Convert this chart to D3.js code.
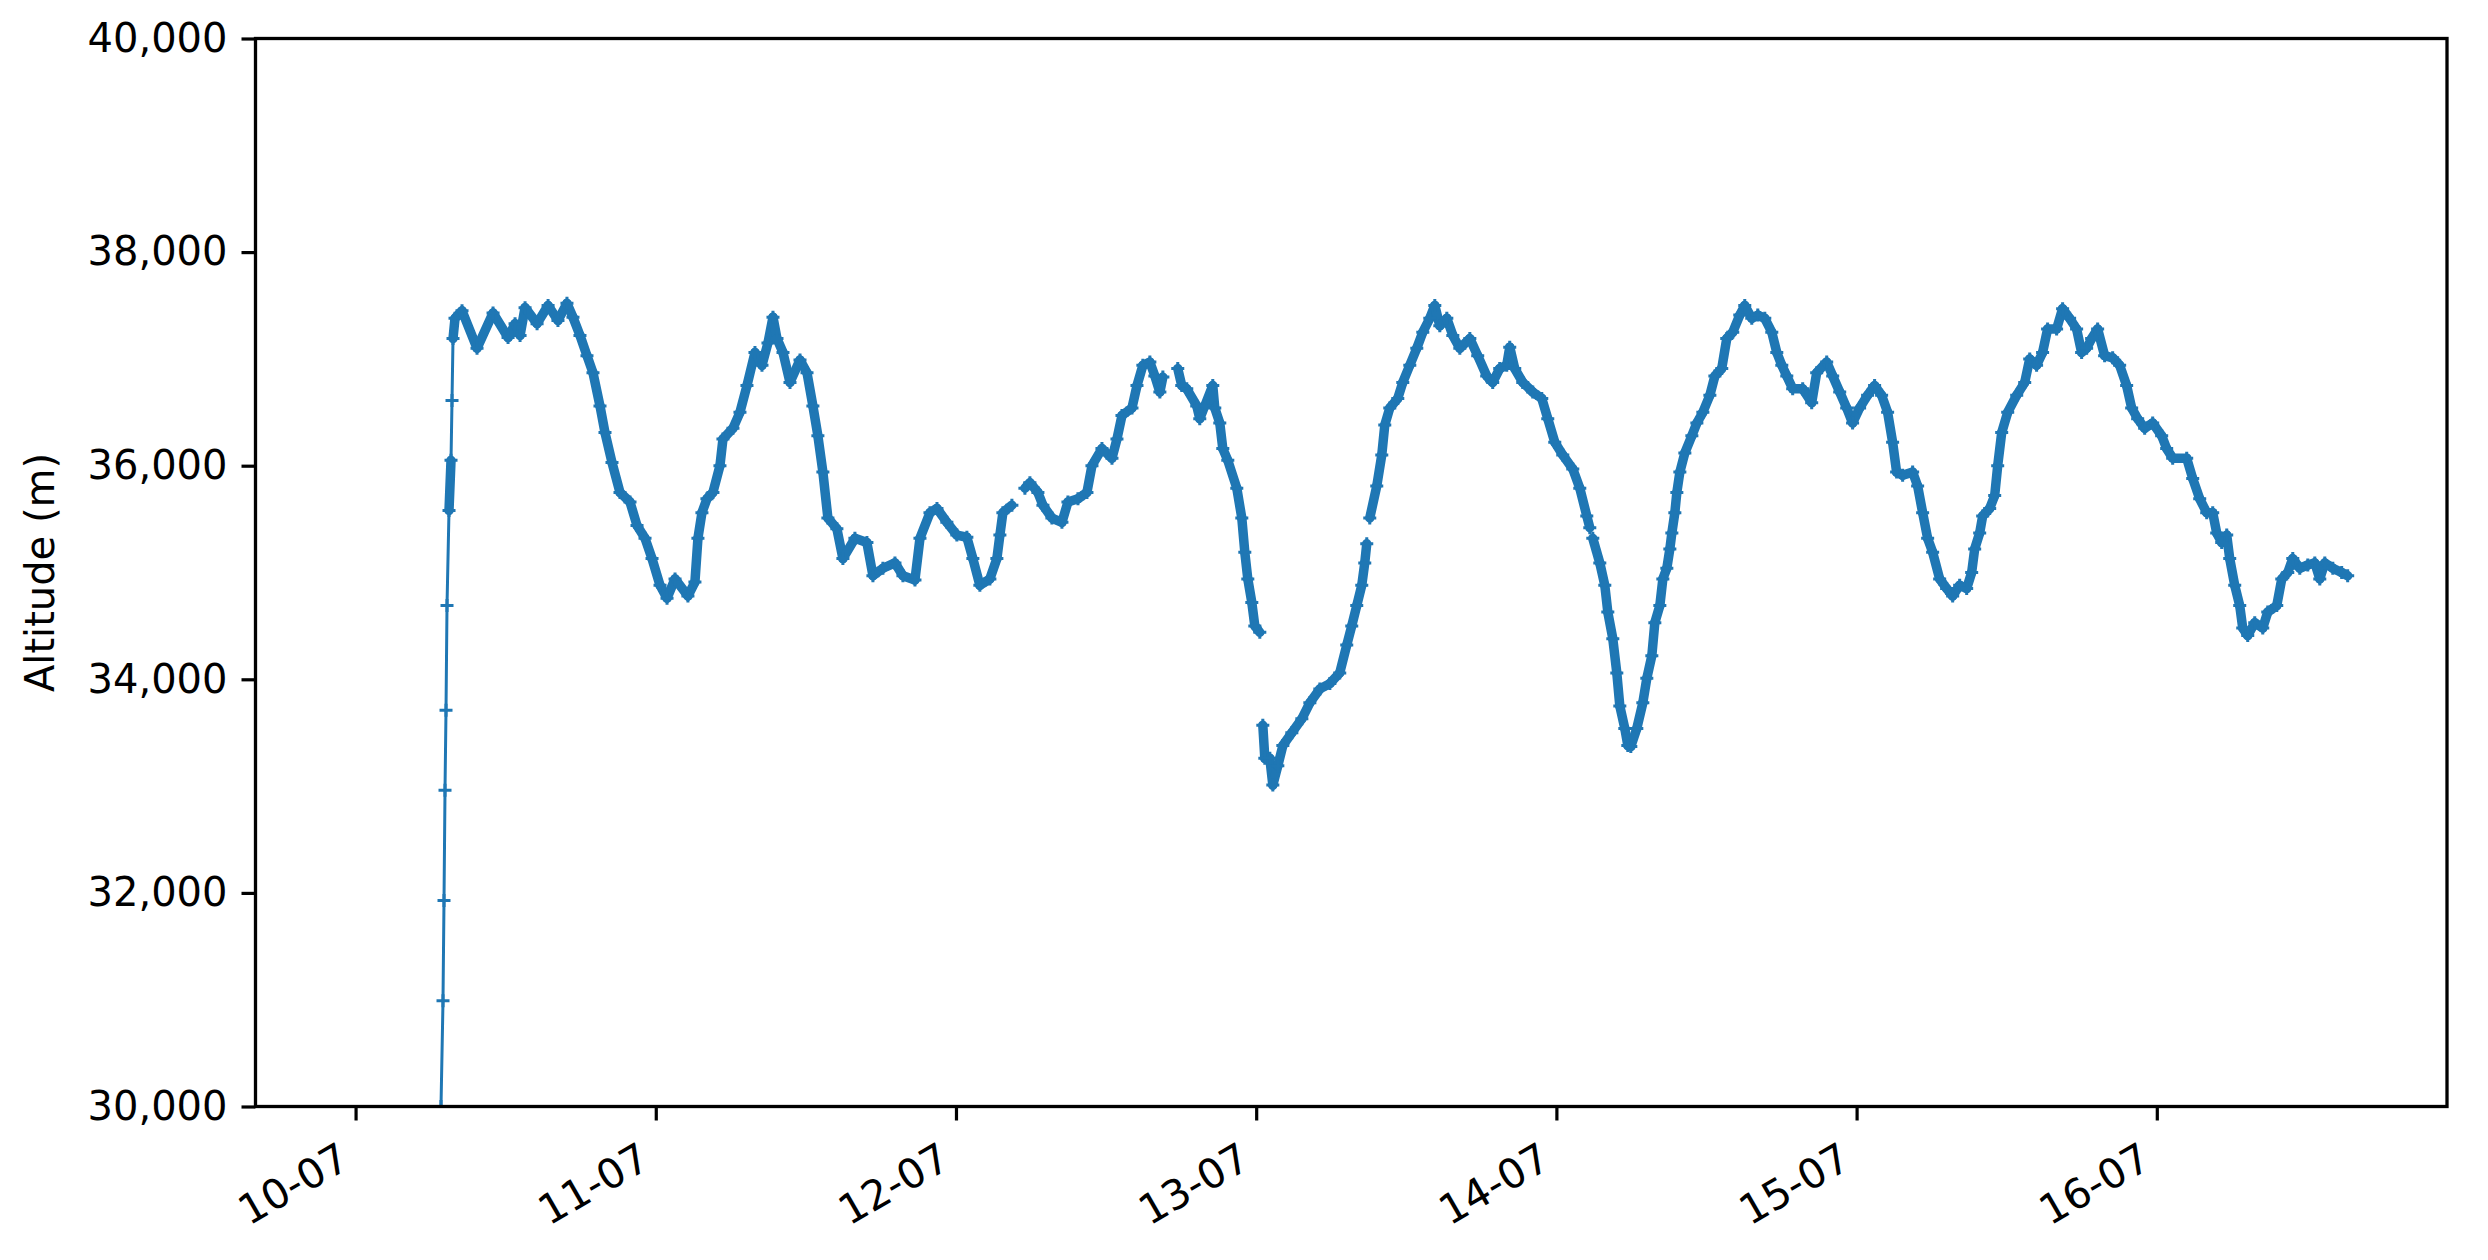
<!DOCTYPE html>
<html><head><meta charset="utf-8">
<script src="https://cdn.jsdelivr.net/npm/d3@7/dist/d3.min.js"></script>
<style>
body{margin:0;background:#fff}
text{font-family:"DejaVu Sans",sans-serif}
</style></head>
<body><svg id="chart" width="2488" height="1260"></svg>
<script>
// ---- data (hours after 10-07 00:00, altitude in metres; null = gap) ----
const baseDateUTC = Date.UTC(2024, 6, 10, 0, 0, 0);
const hours = [
 6.83,6.99,7.07,7.15,7.23,7.31,7.47,7.63,7.71,7.79,
 7.95,8.51,9.71,10.99,12.19,12.75,13.15,13.55,14.51,15.39,
 16.18,16.90,17.38,17.94,18.50,18.98,19.54,19.94,20.50,21.14,
 21.94,22.50,23.14,23.70,24.34,24.90,25.54,26.57,27.13,27.37,
 27.69,28.09,28.57,29.13,29.37,30.17,30.73,31.29,31.93,32.49,
 32.97,33.37,33.69,34.17,34.73,35.53,36.09,36.56,36.96,37.36,
 37.76,38.48,38.96,39.92,40.88,41.36,42.16,43.12,43.76,44.72,
 45.12,45.92,46.48,47.27,48.07,48.87,49.35,49.91,50.71,51.27,
 51.51,51.75,52.47,53.00,53.51,53.91,54.55,54.95,55.67,56.47,
 56.95,57.75,58.47,58.87,59.67,60.47,60.87,61.27,62.07,62.47,
 62.94,63.50,63.90,64.30,64.54,65.10,65.73,66.05,66.45,67.25,
 67.49,67.89,68.53,68.69,69.09,69.33,69.73,70.45,70.85,71.09,
 71.33,71.65,71.89,72.29,72.40,72.53,72.69,73.09,73.33,73.73,
 74.13,74.85,75.65,76.29,77.09,77.89,78.68,79.24,79.64,80.04,
 80.44,80.68,80.84,80.96,81.08,81.64,82.04,82.28,82.68,83.32,
 83.72,84.28,84.84,85.32,85.88,86.28,86.68,87.24,87.72,88.28,
 89.08,89.71,90.43,90.91,91.47,92.03,92.27,92.67,93.31,94.11,
 94.83,95.31,95.87,96.51,97.31,97.87,98.43,98.67,98.79,98.91,
 99.47,99.87,100.11,100.51,100.83,101.07,101.47,101.71,101.95,102.43,
 102.91,103.23,103.63,103.87,104.27,104.51,104.83,105.07,105.23,105.47,
 105.63,105.87,106.27,106.83,107.23,107.71,108.27,108.67,109.22,109.62,
 110.10,110.66,111.06,111.62,112.10,112.66,113.22,113.62,114.02,114.42,
 114.89,115.69,116.41,116.81,117.61,118.09,118.65,119.21,119.68,120.24,
 120.88,121.44,122.00,122.48,122.88,123.20,123.68,124.48,124.88,125.28,
 125.68,126.08,126.64,127.20,127.68,128.24,128.80,129.20,129.44,129.84,
 130.08,130.64,131.04,131.28,131.60,132.08,132.80,133.44,133.84,134.39,
 134.87,135.27,135.99,136.47,137.03,137.59,137.99,138.39,138.79,139.27,
 139.83,140.47,141.03,141.59,141.99,142.47,143.03,143.67,144.39,144.79,
 145.27,146.39,146.87,147.43,147.99,148.47,148.79,149.19,149.59,149.83,
 150.23,150.63,150.87,151.27,151.83,152.47,152.87,153.59,153.99,154.47,
 154.87,155.43,156.07,156.63,157.03,157.43,158.07,158.78,159.26
];
const altitude = [
 30000,30990,31930,32960,33710,34690,35580,36050,36610,37190,
 37380,37450,37100,37430,37200,37330,37220,37480,37330,37500,
 37360,37520,37390,37220,37030,36870,36560,36310,36030,35750,
 35660,35440,35320,35130,34880,34760,34940,34780,34910,35320,
 35560,35690,35750,36000,36250,36350,36500,36750,37060,36940,
 37150,37390,37190,37060,36780,36990,36870,36560,36280,35940,
 35510,35410,35130,35320,35280,34970,35040,35090,34970,34930,
 35320,35560,35600,35470,35350,35330,35130,34880,34940,35130,
 35350,35560,35630,null,35790,35840,35750,35630,35510,35470,
 35660,35690,35750,36000,36160,36070,36250,36470,36540,36750,
 36940,36970,36840,36690,36830,null,36910,36750,36720,36560,
 36440,36560,36750,36540,36400,36160,36050,35790,35510,35190,
 34940,34720,34500,34440,null,33570,33260,33260,33010,33190,
 33380,33500,33630,33780,33910,33960,34060,34320,34500,34690,
 34880,35090,35270,null,35510,35810,36100,36380,36540,36630,
 36780,36940,37100,37250,37380,37500,37310,37380,37220,37100,
 37190,37030,36840,36780,36910,36940,37110,36910,36780,36690,
 36630,36440,36220,36100,35970,35790,35530,35420,null,35320,
 35090,34880,34630,34380,34060,33750,33540,33380,33370,33540,
 33780,34010,34220,34530,34690,34940,35040,35220,35370,35560,
 35750,35940,36120,36280,36400,36500,36660,36840,36910,37190,
 37250,37410,37500,37380,37410,37380,37250,37060,36940,36840,
 36720,36720,36590,36870,36970,36840,36690,36540,36400,36540,
 36660,36750,36660,36500,36220,35940,35910,35940,35810,35560,
 35320,35190,34940,34850,34780,34880,34850,35000,35220,35370,
 35530,35600,35720,36000,36310,36500,36660,36780,37000,36940,
 37060,37280,37280,37470,37380,37280,37060,37100,37190,37280,
 37030,37010,36940,36750,36540,36440,36350,36400,36280,36160,
 36070,36070,35880,35690,35560,35560,35370,35280,35350,35130,
 34880,34690,34480,34410,34530,34480,34630,34690,34940,35000,
 35130,35040,35070,35090,34940,35090,35040,35000,34970
];
const yTicks = [30000, 32000, 34000, 36000, 38000, 40000];
const xTickDays = [10, 11, 12, 13, 14, 15, 16];
const xDomainHours = [-8, 167.2];
const yDomain = [30000, 40000];
const yLabel = "Altitude (m)";

// ---- layout ----
const L = 255.5, R = 2447, T = 38.5, B = 1106.5;
const color = "#1f77b4";
const svg = d3.select("#chart");
const toDate = h => new Date(baseDateUTC + h * 3600e3);

const x = d3.scaleUtc().domain(xDomainHours.map(toDate)).range([L, R]);
const y = d3.scaleLinear().domain(yDomain).range([B, T]);

const data = hours.map((h, i) => ({h, t: toDate(h), v: altitude[i]}));

svg.append("defs").append("clipPath").attr("id", "clip")
  .append("rect").attr("x", L).attr("y", T).attr("width", R - L).attr("height", B - T);

const g = svg.append("g").attr("clip-path", "url(#clip)");
// consecutive segments; fast ascent drawn thin (sparse points), float phase thick (dense noisy points)
const segs = [];
for (let i = 1; i < data.length; i++) {
  const a = data[i - 1], b = data[i];
  if (a.v === null || b.v === null) continue;
  const rate = Math.abs(b.v - a.v) / (b.h - a.h);
  segs.push({a, b, thin: rate > 3000});
}
g.append("g").selectAll("line").data(segs).join("line")
  .attr("x1", d => x(d.a.t)).attr("y1", d => y(d.a.v))
  .attr("x2", d => x(d.b.t)).attr("y2", d => y(d.b.v))
  .attr("stroke", color).attr("stroke-linecap", "round")
  .attr("stroke-width", d => d.thin ? 3 : 9.5);
const pts = data.filter(d => d.v !== null);
const s = 6.5;
g.append("g").selectAll("path").data(pts).join("path")
  .attr("d", d => { const px = x(d.t), py = y(d.v);
    return `M${px - s},${py}H${px + s}M${px},${py - s}V${py + s}`; })
  .attr("stroke", color).attr("stroke-width", 3);

// axes
const tickW = 3.2;
const yAxis = d3.axisLeft(y).tickValues(yTicks).tickFormat(d3.format(","))
  .tickSize(14).tickPadding(14);
const ya = svg.append("g").attr("transform", `translate(${L},0)`).call(yAxis);
ya.select(".domain").remove();
ya.selectAll("line").attr("stroke", "#000").attr("stroke-width", tickW);
ya.selectAll("text").attr("font-size", 40).attr("fill", "#000")
  .attr("font-family", "DejaVu Sans, sans-serif");

const xTicks = xTickDays.map(d => new Date(Date.UTC(2024, 6, d)));
const xAxis = d3.axisBottom(x).tickValues(xTicks).tickFormat(d3.utcFormat("%d-%m"))
  .tickSize(14).tickPadding(14);
const xa = svg.append("g").attr("transform", `translate(0,${B})`).call(xAxis);
xa.select(".domain").remove();
xa.selectAll("line").attr("stroke", "#000").attr("stroke-width", tickW);
xa.selectAll("text").attr("font-size", 41).attr("fill", "#000")
  .attr("font-family", "DejaVu Sans, sans-serif")
  .attr("text-anchor", "end").attr("x", 0).attr("y", 0).attr("dy", 0)
  .attr("transform", "translate(-4,60) rotate(-30)");

// frame
svg.append("rect").attr("x", L).attr("y", T).attr("width", R - L).attr("height", B - T)
  .attr("fill", "none").attr("stroke", "#000").attr("stroke-width", 3.3);

// y label
svg.append("text").attr("transform", `translate(54,${(T + B) / 2}) rotate(-90)`)
  .attr("text-anchor", "middle").attr("font-size", 40).attr("fill", "#000")
  .text(yLabel);
</script>
</body></html>
